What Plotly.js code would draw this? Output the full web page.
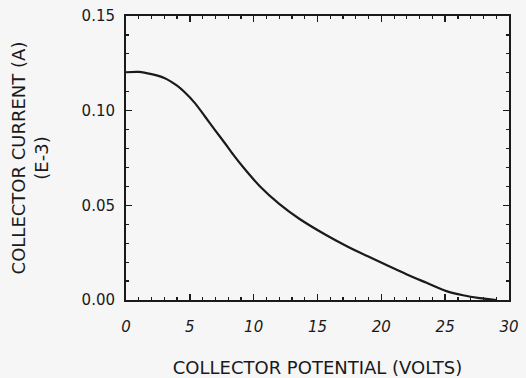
<!DOCTYPE html>
<html>
<head>
<meta charset="utf-8">
<script src="https://cdn.plot.ly/plotly-3.0.1.min.js"></script>
<style>html,body{margin:0;padding:0;background:#f6f6f6;}</style>
</head>
<body>
<div id="chart" style="width:526px;height:378px;"></div>
<script>
// Collector potential (volts)
const potential = [0, 1, 2, 3, 4, 4.6, 5.4, 6.2, 7, 7.75, 8.4, 9.2, 10.5, 12, 13.6, 15.6, 17.3, 18.9, 20.4, 22, 23.5, 25.1, 26.4, 27.7, 29];
// Collector current (A, E-3)
const current = [0.1203, 0.1205, 0.1193, 0.1173, 0.1132, 0.1097, 0.1040, 0.0968, 0.0895, 0.0828, 0.0768, 0.0700, 0.0600, 0.0508, 0.0428, 0.0346, 0.0284, 0.0232, 0.0185, 0.0135, 0.0092, 0.0047, 0.0025, 0.0010, 0.0000];
const xTicks = [0, 5, 10, 15, 20, 25, 30];
const yTicks = [0.00, 0.05, 0.10, 0.15];

const ink = '#1a1a1a';
const fam = 'DejaVu Sans, Verdana, sans-serif';
const titleFont = {family: fam, size: 18, color: ink};
const tickFont = {family: fam, size: 15, color: ink};

const trace = {
  x: potential,
  y: current,
  type: 'scatter',
  mode: 'lines',
  line: {color: ink, width: 2.2, shape: 'spline', smoothing: 0.8},
  hoverinfo: 'x+y'
};

const layout = {
  width: 526,
  height: 378,
  margin: {l: 126, r: 17, t: 16, b: 78},
  paper_bgcolor: '#f6f6f6',
  plot_bgcolor: '#f6f6f6',
  showlegend: false,
  font: tickFont,
  xaxis: {
    range: [0, 30],
    tickvals: xTicks,
    ticktext: xTicks.map(String),
    ticks: 'inside',
    ticklen: 6,
    tickwidth: 1.5,
    tickcolor: ink,
    ticklabelstandoff: 12,
    minor: {dtick: 1, tick0: 0, ticks: 'inside', ticklen: 3, tickwidth: 1.2, tickcolor: ink, showgrid: false},
    showline: true,
    linecolor: ink,
    linewidth: 2,
    mirror: 'allticks',
    showgrid: false,
    zeroline: false,
    tickfont: {family: fam, size: 15, color: ink, style: 'italic'},
    title: {text: 'COLLECTOR POTENTIAL (VOLTS)', font: titleFont, standoff: 31},
    automargin: false
  },
  yaxis: {
    range: [0, 0.15],
    tickvals: yTicks,
    tickformat: '.2f',
    ticks: 'inside',
    ticklen: 6,
    tickwidth: 1.5,
    tickcolor: ink,
    ticklabelstandoff: 6,
    minor: {dtick: 0.01, tick0: 0, ticks: 'inside', ticklen: 3, tickwidth: 1.2, tickcolor: ink, showgrid: false},
    showline: true,
    linecolor: ink,
    linewidth: 2,
    mirror: 'allticks',
    showgrid: false,
    zeroline: false,
    tickfont: tickFont,
    title: {text: 'COLLECTOR CURRENT (A)<br>(E-3)', font: titleFont, standoff: 28},
    automargin: false
  }
};

Plotly.newPlot('chart', [trace], layout, {displayModeBar: false, staticPlot: true});
</script>
</body>
</html>
